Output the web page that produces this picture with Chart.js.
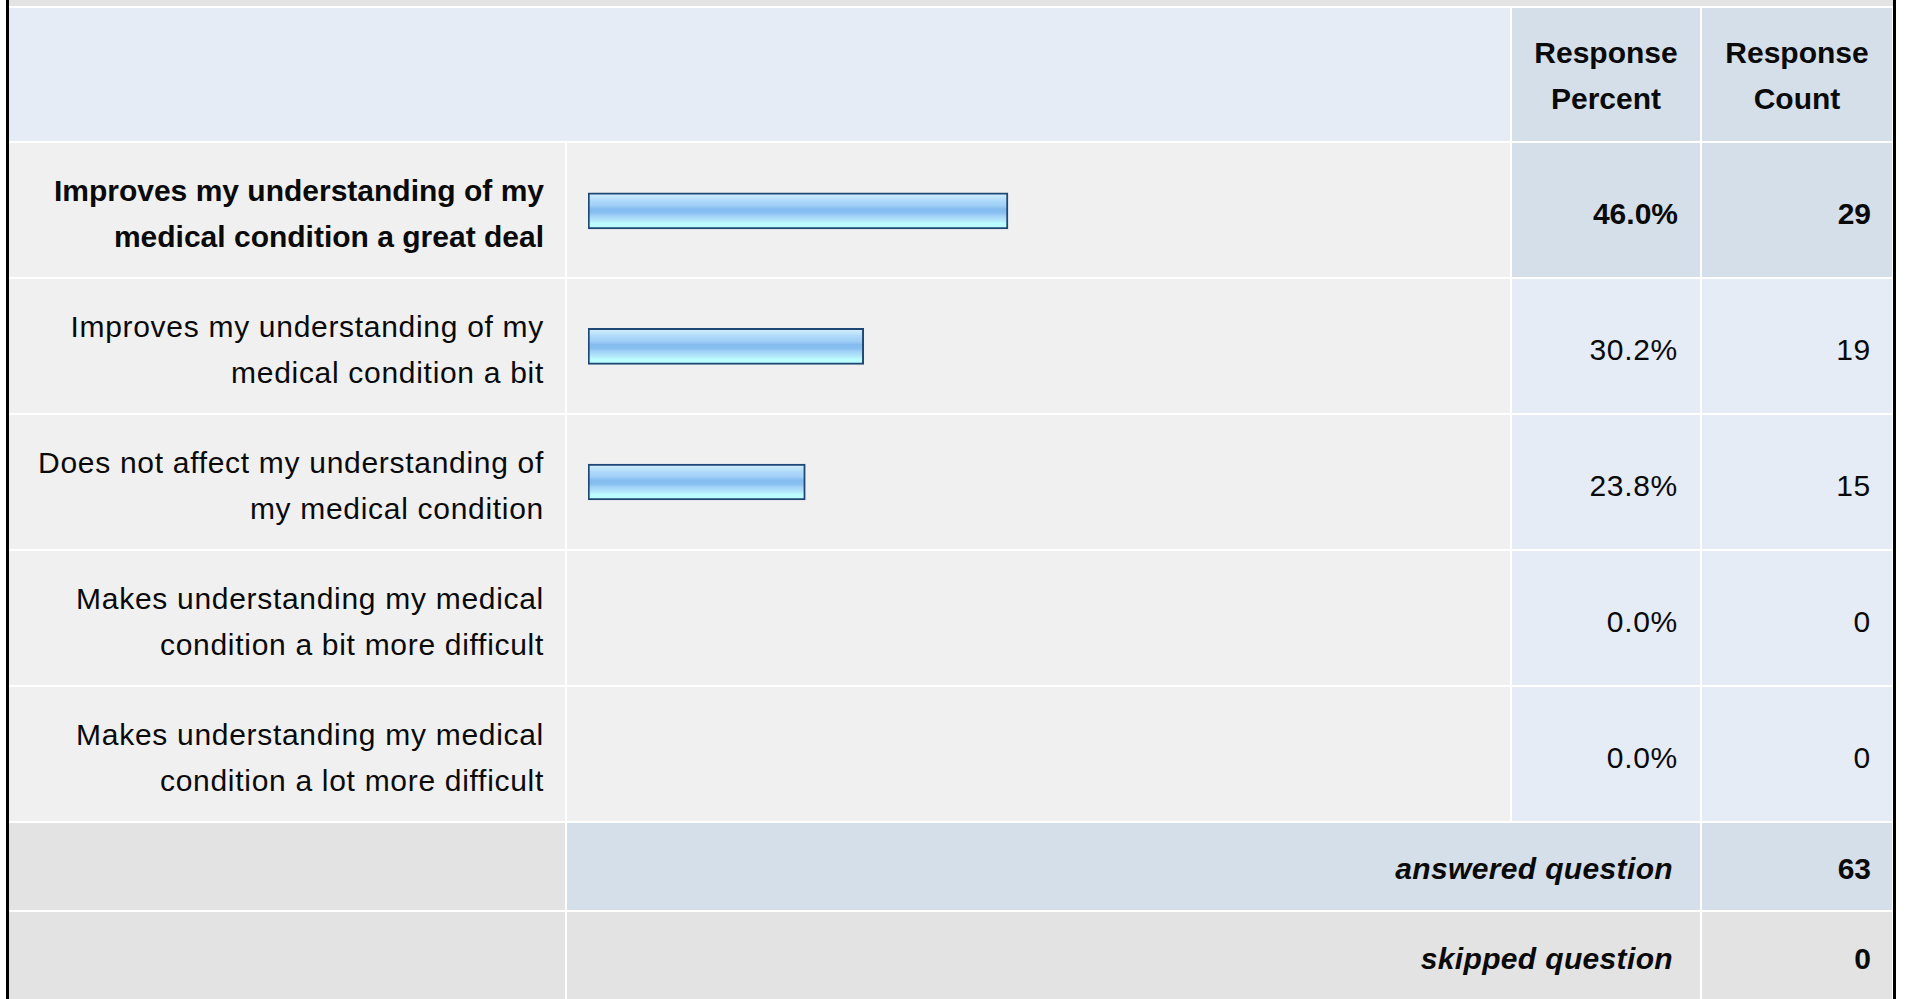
<!DOCTYPE html>
<html>
<head>
<meta charset="utf-8">
<script src="https://cdn.jsdelivr.net/npm/chart.js@4.4.1/dist/chart.umd.min.js"></script>
<style>
  html, body { margin: 0; padding: 0; background: #ffffff; width: 1907px; height: 999px; overflow: hidden; }
  #stage { position: absolute; left: 0; top: 0; width: 1907px; height: 999px; overflow: hidden; }
  .cell { position: absolute; box-sizing: border-box; display: flex; align-items: center;
          font-family: "Liberation Sans", Arial, Helvetica, sans-serif; font-size: 30px; line-height: 46px; color: #0a0a0a; }
  .cell span { position: relative; }
  .reg { letter-spacing: 0.7px; }
  .bold { font-weight: bold; }
  .right { justify-content: flex-end; text-align: right; }
  .center { justify-content: center; text-align: center; }
  .ital { font-style: italic; font-weight: bold; letter-spacing: 0.35px; }
  #chartWrap { position: absolute; left: 567px; top: 143px; width: 943px; height: 678px; pointer-events: none; }
</style>
</head>
<body>
<div id="stage"></div>
<script>
// ---------- data ----------
const categories = [
  ["Improves my understanding of my", "medical condition a great deal"],
  ["Improves my understanding of my", "medical condition a bit"],
  ["Does not affect my understanding of", "my medical condition"],
  ["Makes understanding my medical", "condition a bit more difficult"],
  ["Makes understanding my medical", "condition a lot more difficult"]
];
const percents = [46.0, 30.2, 23.8, 0.0, 0.0];
const counts = [29, 19, 15, 0, 0];
const headerPercent = ["Response", "Percent"];
const headerCount = ["Response", "Count"];
const answeredLabel = "answered question";
const answeredCount = 63;
const skippedLabel = "skipped question";
const skippedCount = 0;

// ---------- layout ----------
const stage = document.getElementById('stage');
function cell(x, y, w, h, bg, html, cls, pad, dy) {
  const d = document.createElement('div');
  d.className = 'cell ' + (cls || '');
  d.style.left = x + 'px'; d.style.top = y + 'px';
  d.style.width = w + 'px'; d.style.height = h + 'px';
  d.style.background = bg;
  if (pad) d.style.paddingRight = pad + 'px';
  if (html !== undefined && html !== '') {
    const s = document.createElement('span');
    s.innerHTML = html;
    s.style.top = (dy || 0) + 'px';
    d.appendChild(s);
  }
  stage.appendChild(d);
  return d;
}
const C = { lab: [9, 556], bar: [567, 943], pct: [1512, 188], cnt: [1702, 190] };
const LIGHT = '#e5ecf6', DARK = '#d5dfe9', GREY = '#f0f0f0', GREY2 = '#e3e3e3';

// outer borders
cell(6, 0, 3, 999, '#000');
cell(1893, 0, 3, 999, '#000');
// top band
cell(9, 0, 1884, 6, GREY2);
// header
cell(9, 8, 1501, 133, LIGHT);
cell(C.pct[0], 8, C.pct[1], 133, DARK, headerPercent.join('<br>'), 'bold center', 0, 1.5);
cell(C.cnt[0], 8, C.cnt[1], 133, DARK, headerCount.join('<br>'), 'bold center', 0, 1.5);

// data rows
const maxIdx = percents.indexOf(Math.max(...percents));
categories.forEach((lines, i) => {
  const y = 143 + i * 136, h = 134;
  const isMax = i === maxIdx;
  const tcls = isMax ? 'bold right' : 'reg right';
  cell(C.lab[0], y, C.lab[1], h, GREY, lines.join('<br>'), tcls, 21, 3.5);
  cell(C.bar[0], y, C.bar[1], h, GREY);
  cell(C.pct[0], y, C.pct[1], h, isMax ? DARK : LIGHT, percents[i].toFixed(1) + '%', isMax ? 'bold right' : 'reg right', 22, 3.5);
  cell(C.cnt[0], y, C.cnt[1], h, isMax ? DARK : LIGHT, String(counts[i]), tcls, 21, 3.5);
});

// summary rows
cell(C.lab[0], 823, C.lab[1], 87, GREY2);
cell(C.bar[0], 823, 1133, 87, DARK, answeredLabel, 'ital right', 27, 2);
cell(C.cnt[0], 823, C.cnt[1], 87, DARK, String(answeredCount), 'bold right', 21, 2);
cell(C.lab[0], 912, C.lab[1], 92, GREY2);
cell(C.bar[0], 912, 1133, 92, GREY2, skippedLabel, 'ital right', 27, 1);
cell(C.cnt[0], 912, C.cnt[1], 92, GREY2, String(skippedCount), 'bold right', 21, 1);

// ---------- chart ----------
const wrap = document.createElement('div');
wrap.id = 'chartWrap';
const canvas = document.createElement('canvas');
canvas.width = 943; canvas.height = 678;
canvas.style.width = '943px'; canvas.style.height = '678px';
wrap.appendChild(canvas);
stage.appendChild(wrap);

const BAR_H = 36;
function barFill(c) {
  if (!(c.raw > 0)) return 'rgba(0,0,0,0)';
  const chart = c.chart;
  if (!chart.chartArea || !chart.scales.y) return '#9ccaf4';
  const yc = chart.scales.y.getPixelForValue(c.dataIndex);
  const g = chart.ctx.createLinearGradient(0, yc - BAR_H / 2, 0, yc + BAR_H / 2);
  g.addColorStop(0.00, '#d8effd');
  g.addColorStop(0.12, '#c2e5fb');
  g.addColorStop(0.22, '#afd9f9');
  g.addColorStop(0.35, '#a0cff7');
  g.addColorStop(0.45, '#84bcf0');
  g.addColorStop(0.55, '#88bff1');
  g.addColorStop(0.65, '#a3d3f7');
  g.addColorStop(0.76, '#b2e6f9');
  g.addColorStop(0.85, '#bbfcfe');
  g.addColorStop(1.00, '#bcfefe');
  return g;
}

new Chart(canvas.getContext('2d'), {
  type: 'bar',
  data: {
    labels: categories,
    datasets: [{
      data: percents,
      backgroundColor: barFill,
      borderColor: c => (c.raw > 0 ? '#1f4775' : 'rgba(0,0,0,0)'),
      borderWidth: c => (c.raw > 0 ? 2 : 0),
      borderSkipped: false,
      barThickness: BAR_H
    }]
  },
  options: {
    indexAxis: 'y',
    responsive: false,
    animation: false,
    devicePixelRatio: 1,
    layout: { padding: { left: 21, right: 9, top: 0, bottom: 0 } },
    plugins: { legend: { display: false }, tooltip: { enabled: false } },
    scales: {
      x: { display: false, min: 0, max: 100 },
      y: { display: false }
    }
  }
});
</script>
</body>
</html>
